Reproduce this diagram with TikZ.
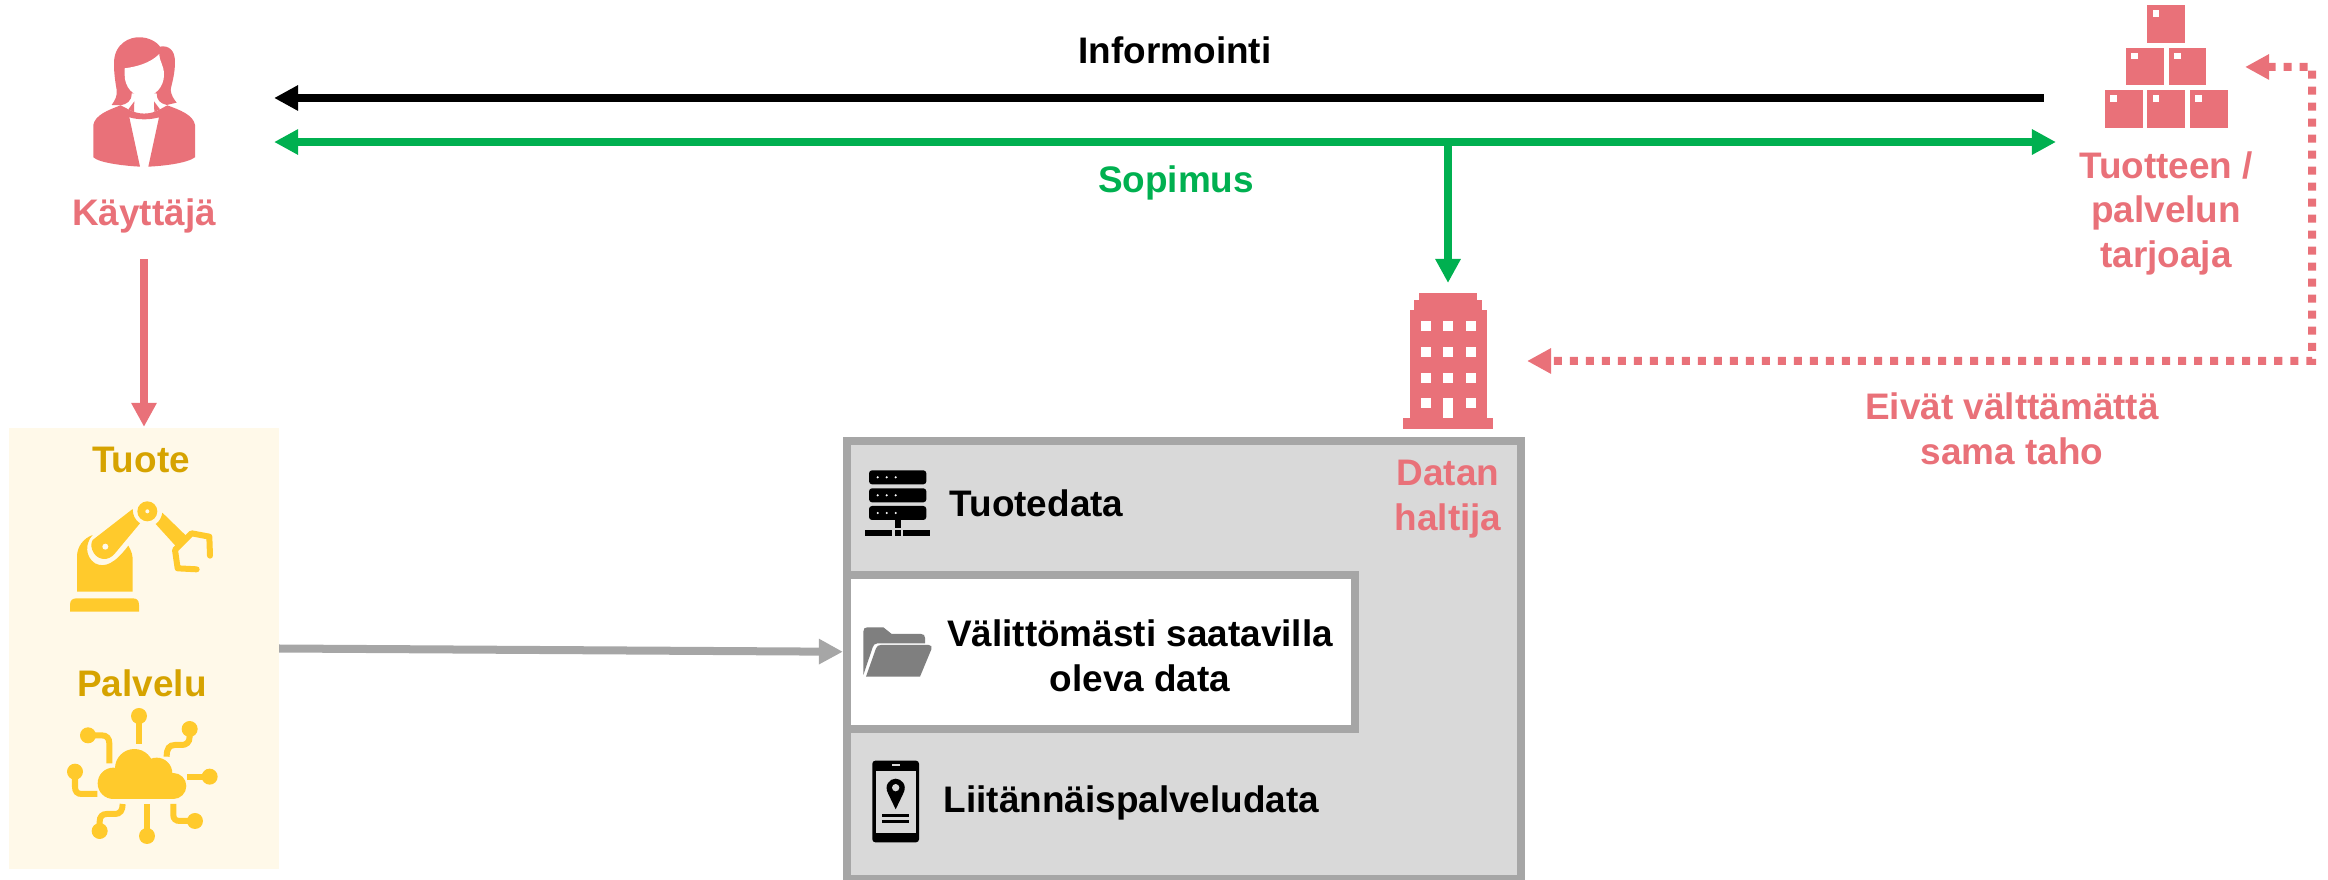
\documentclass[tikz,border=0pt]{standalone}
\usepackage{fontspec}
\setmainfont{Liberation Sans}
\usetikzlibrary{arrows.meta}
\definecolor{pinkred}{HTML}{E97179}
\definecolor{accentgreen}{HTML}{00B050}
\definecolor{boxgray}{HTML}{D9D9D9}
\definecolor{edgegray}{HTML}{A6A6A6}
\definecolor{foldergray}{HTML}{7F7F7F}
\definecolor{goldtext}{HTML}{D6A300}
\definecolor{goldicon}{HTML}{FFCA2C}
\definecolor{creamfill}{HTML}{FFF9E9}
\tikzset{
  boldtext/.style={font=\fontsize{10.5pt}{12.66pt}\selectfont\bfseries, inner sep=0pt, align=center},
  iconarea/.style={inner sep=0pt, outer sep=0pt},
  flowline/.style={line width=0.08cm},
  dotline/.style={line width=0.08cm, pinkred, dash pattern=on 0.08cm off 0.08cm},
  circuit/.style={line width=0.06cm, goldicon}
}

\begin{document}
\begin{tikzpicture}[x=0.01cm, y=-0.01cm, >={Triangle[length=0.24cm,width=0.24cm]}]
    \useasboundingbox (0,0) rectangle (2328,880);

    % Laatikot
    \node[iconarea, fill=creamfill, minimum width=2.70cm, minimum height=4.41cm] (tuotebox) at (144,648.5) {};
    \node[draw=edgegray, fill=boxgray, line width=0.08cm, minimum width=6.74cm, minimum height=4.38cm] (databox) at (1184,660) {};
    \node[draw=edgegray, fill=white, line width=0.08cm, minimum width=5.075cm, minimum height=1.535cm] (saatavilla) at (1100.75,651.75) {};

    % Kuvakkeiden alueet
    \node[iconarea, minimum width=2.60cm, minimum height=1.30cm] (kayttajaicon) at (144,98) {};
    \node[iconarea, minimum width=1.89cm, minimum height=1.30cm] (tarjoajaicon) at (2150.5,98) {};
    \node[iconarea, minimum width=0.90cm, minimum height=1.36cm] (haltijaicon) at (1448,361) {};
    \coordinate (sopimushaara) at (1448,142);
    \coordinate (kulmaylä) at (2312,67);
    \coordinate (kulmaala) at (2312,361);

    % Tekstit
    \node[boldtext, anchor=base, text=pinkred] (kayttaja) at (144,226) {Käyttäjä};
    \node[boldtext, anchor=base] (informointi) at (1175,64) {Informointi};
    \node[boldtext, anchor=base, text=accentgreen] (sopimus) at (1176,193) {Sopimus};
    \node[boldtext, text=pinkred] (tarjoaja) at (2166,213) {Tuotteen /\\palvelun\\tarjoaja};
    \node[boldtext, text=pinkred] (huomio) at (2012,429) {Eivät välttämättä\\sama taho};
    \node[boldtext, text=pinkred] (haltija) at (1448,499) {Datan\\haltija};
    \node[boldtext, anchor=base, text=goldtext] (tuote) at (141,473) {Tuote};
    \node[boldtext, anchor=base, text=goldtext] (palvelu) at (142,697) {Palvelu};
    \node[boldtext, anchor=base west] (tuotedata) at (949,517) {Tuotedata};
    \node[boldtext] (saatavillatext) at (1140,656) {Välittömästi saatavilla\\oleva data};
    \node[boldtext, anchor=base west] (liitannais) at (943,813) {Liitännäispalveludata};

    % Nuolet
    \draw[flowline, ->] ([xshift=-0.12cm]tarjoajaicon.west) -- (kayttajaicon.east);
    \draw[flowline, accentgreen, <->] ([yshift=-0.44cm]kayttajaicon.east) -- ([yshift=-0.44cm]tarjoajaicon.west);
    \draw[flowline, accentgreen, ->, shorten >=0.10cm] (sopimushaara) -- (haltijaicon.north);
    \draw[flowline, pinkred, ->, shorten <=0.25cm, shorten >=0.01cm] (kayttaja.south) -- (tuotebox.north);
    \draw[flowline, edgegray, ->] (tuotebox.east) -- (saatavilla.west);
    \draw[dotline, <->, shorten >=0.34cm] ([yshift=0.31cm]tarjoajaicon.east) -- (kulmaylä) -- (kulmaala) -- (haltijaicon.east);

    % Käyttäjä
    \begin{scope}[scale=1/3]
        \fill[pinkred] (342,190) .. controls (342,130) and (390,110) .. (420,112) .. controls (445,112) and (470,125) .. (480,140) .. controls (505,135) and (525,150) .. (525,185) .. controls (525,225) and (515,250) .. (512,270) .. controls (513,285) and (522,298) .. (530,308) -- (500,315) .. controls (480,310) and (470,300) .. (470,280) -- (395,280) .. controls (395,305) and (380,312) .. (362,316) -- (335,315) .. controls (345,300) and (352,290) .. (350,270) .. controls (345,240) and (342,220) .. (342,190) -- cycle;
        \fill[white] (374,205) .. controls (410,200) and (450,190) .. (478,162) .. controls (478,185) and (492,195) .. (492,225) .. controls (492,260) and (465,290) .. (433,290) .. controls (400,290) and (374,262) .. (374,225) -- cycle;
        \fill[pinkred] (280,472) .. controls (300,490) and (380,498) .. (420,500) -- (388,352) .. controls (415,360) and (450,360) .. (477,352) -- (445,500) .. controls (490,498) and (560,490) .. (585,472) -- (585,375) .. controls (580,345) and (540,330) .. (502,316) -- (480,328) .. controls (450,345) and (415,345) .. (385,328) -- (362,316) .. controls (325,330) and (285,345) .. (280,375) -- cycle;
        \fill[pinkred] (403,304) -- (385,328) -- (402,336) -- cycle;
        \fill[pinkred] (462,304) -- (480,328) -- (463,336) -- cycle;
    \end{scope}

    % Tuotteen tarjoaja
    \begin{scope}[shift={(2020,0)}, scale=1/3]
        \foreach \bx/\by in {382/15, 318/143, 446/143, 255/271, 382/271, 510/271} {
            \fill[pinkred] (\bx,\by) rectangle ++(113,113);
            \fill[white] (\bx+16,\by+15) rectangle ++(20,20);
        }
    \end{scope}

    % Datan haltija
    \begin{scope}[shift={(1380,270)}, scale=1/3]
        \fill[pinkred] (70,445) rectangle (340,478);
        \fill[pinkred] (89,120) rectangle (321,445);
        \fill[pinkred] (103,90) rectangle (307,120);
        \fill[pinkred] (118,70) rectangle (292,90);
        \foreach \wx in {123,190,258} {
            \foreach \wy in {153,231,308} {
                \fill[white] (\wx,\wy) rectangle ++(30,30);
            }
        }
        \fill[white] (123,385) rectangle ++(30,30);
        \fill[white] (258,385) rectangle ++(30,30);
        \fill[white] (190,385) rectangle (220,443);
    \end{scope}

    % Tuote
    \begin{scope}[shift={(0,420)}, scale=1/3]
        \fill[goldicon] (210,575) -- (210,555) .. controls (210,540) and (218,535) .. (230,535) -- (397,535) .. controls (410,535) and (417,540) .. (417,555) -- (417,575) -- cycle;
        \fill[goldicon] (231,515) -- (231,410) .. controls (231,380) and (250,355) .. (278,345) .. controls (255,370) and (255,410) .. (285,430) .. controls (315,445) and (345,430) .. (385,377) .. controls (395,395) and (398,405) .. (398,420) -- (398,515) -- cycle;
        \fill[goldicon] (278,360) -- (398,267) .. controls (398,285) and (405,300) .. (420,310) -- (345,400) .. controls (325,425) and (295,420) .. (282,400) .. controls (272,385) and (272,370) .. (278,360) -- cycle;
        \fill[creamfill] (316,380) circle (9);
        \fill[goldicon] (442,274) circle (30);
        \fill[creamfill] (442,274) circle (6);
        \fill[goldicon] (487,278) -- (558,347) -- (527,378) -- (467,312) .. controls (478,305) and (485,292) .. (487,278) -- cycle;
        \draw[circuit, line cap=round, line join=round] (590,448) -- (533,445) -- (525,390) -- (575,340) -- (628,350) -- (630,407);
    \end{scope}

    % Palvelu
    \begin{scope}[shift={(0,420)}, scale=1/3]
        \fill[goldicon] (340,1090) circle (47);
        \fill[goldicon] (403,1045) circle (58);
        \fill[goldicon] (470,1060) circle (47);
        \fill[goldicon] (520,1098) circle (39);
        \fill[goldicon] (340,1090) rectangle (520,1137);
        \foreach \px/\py in {417/888, 264/946, 569/927, 629/1070, 225/1055, 299/1233, 441/1248, 585/1203} {
            \fill[goldicon] (\px,\py) circle (24);
        }
        \draw[circuit] (417,888) -- (417,972);
        \draw[circuit] (264,946) -- (305,946) .. controls (320,946) and (328,955) .. (328,970) -- (328,1030);
        \draw[circuit] (569,927) -- (569,950) .. controls (569,968) and (558,975) .. (545,975) -- (525,975) .. controls (508,975) and (500,985) .. (500,1010);
        \draw[circuit] (629,1070) -- (560,1070);
        \draw[circuit] (225,1055) -- (225,1100) .. controls (225,1115) and (232,1122) .. (245,1122) -- (292,1122);
        \draw[circuit] (299,1233) -- (299,1205) .. controls (299,1190) and (307,1182) .. (320,1182) -- (345,1182) .. controls (360,1182) and (368,1172) .. (368,1152);
        \draw[circuit] (441,1248) -- (441,1152);
        \draw[circuit] (585,1203) -- (540,1203) .. controls (527,1203) and (520,1197) .. (520,1185) -- (520,1152);
    \end{scope}

    % Datan kuvakkeet
    \begin{scope}[shift={(840,430)}, scale=1/3]
        \foreach \sy in {121,175,228} {
            \fill[black, rounded corners=0.03cm] (87,\sy) rectangle ++(172,42);
            \foreach \sx in {113,140,167} {
                \fill[white] (\sx,\sy+21) circle (3.5);
            }
        }
        \fill[black] (165,270) rectangle (183,295);
        \fill[black] (75,300) rectangle (155,318);
        \fill[black] (165,300) rectangle (183,318);
        \fill[black] (190,300) rectangle (270,318);

        \fill[foldergray] (70,735) -- (70,605) .. controls (70,596) and (74,592) .. (82,592) -- (130,592) -- (155,612) -- (243,612) .. controls (251,612) and (255,616) .. (255,624) -- (255,640) -- (112,640) .. controls (104,640) and (100,646) .. (98,652) -- cycle;
        \fill[foldergray] (78,740) -- (108,655) .. controls (111,648) and (115,645) .. (122,645) -- (266,645) .. controls (274,645) and (277,650) .. (274,658) -- (240,740) -- cycle;
    \end{scope}
    \begin{scope}[shift={(840,720)}, scale=1/3]
        \fill[black, rounded corners=0.03cm] (97,122) rectangle (237,367);
        \fill[boxgray] (107,152) rectangle (227,338);
        \fill[boxgray] (155,133) rectangle (180,139);
        \fill[black] (167,268) -- (145,222) .. controls (130,195) and (150,176) .. (167,176) .. controls (184,176) and (204,195) .. (189,222) -- cycle;
        \fill[boxgray] (167,203) circle (11);
        \fill[black] (126,282) rectangle (207,290);
        \fill[black] (126,300) rectangle (207,308);
    \end{scope}
\end{tikzpicture}
\end{document}
